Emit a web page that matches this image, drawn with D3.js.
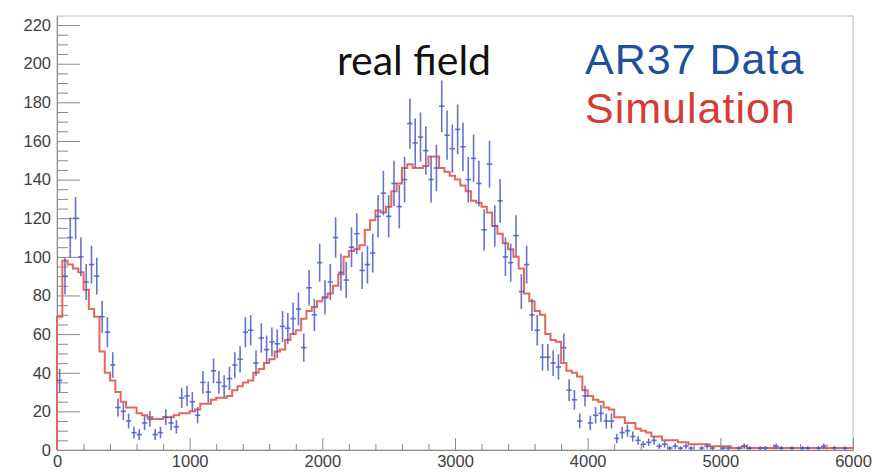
<!DOCTYPE html>
<html>
<head>
<meta charset="utf-8">
<script src="https://cdn.jsdelivr.net/npm/d3@7"></script>
<style>
  html, body { margin: 0; padding: 0; background: #fff; }
  svg { display: block; }
</style>
</head>
<body>
<svg id="chart" width="888" height="472"></svg>
<script>
// Histogram binning: 150 bins of 40 units over 0..6000
const binWidth = 40;
const xTicks = [0, 1000, 2000, 3000, 4000, 5000, 6000];
const yTicks = [0, 20, 40, 60, 80, 100, 120, 140, 160, 180, 200, 220];

// Measured counts per bin (AR37 data)
const dataCounts = [
  36, 90, 110, 120, 100, 87, 96, 90, 69, 61,
  44, 22, 20, 15, 9, 8, 14, 16, 8, 9,
  17, 14, 12, 27, 28, 25, 18, 35, 30, 41,
  35, 33, 37, 44, 47, 61, 62, 45, 58, 52,
  56, 55, 64, 63, 68, 73, 53, 84, 70, 97,
  79, 87, 110, 92, 88, 105, 112, 93, 96, 102,
  121, 133, 121, 138, 126, 140, 169, 159, 162, 155,
  140, 146, 178, 163, 156, 166, 157, 140, 151, 138,
  114, 148, 116, 129, 100, 97, 111, 82, 96, 70,
  62, 48, 48, 45, 43, 53, 31, 26, 15, 28,
  14, 18, 19, 15, 15, 6, 9, 10, 7, 5,
  3, 4, 5, 2, 3, 1, 2, 1, 2, 1,
  0, 1, 2, 1, 0, 1, 1, 0, 1, 2,
  1, 0, 1, 1, 0, 2, 1, 0, 1, 0,
  1, 1, 0, 1, 2, 0, 1, 0, 1, 0
];

// Simulated spectrum per bin
const simCounts = [
  69, 98, 96, 94, 92, 83, 73, 69, 51, 40,
  36, 30, 25, 22, 22, 19, 18, 17, 16, 16,
  17, 17, 18, 19, 19, 20, 21, 24, 24, 26,
  27, 27, 28, 31, 33, 35, 36, 40, 42, 45,
  47, 51, 52, 57, 60, 62, 68, 72, 74, 77,
  79, 81, 85, 91, 100, 103, 104, 106, 114, 119,
  124, 123, 126, 134, 138, 146, 148, 146, 146, 147,
  152, 152, 146, 144, 142, 140, 137, 134, 129, 128,
  126, 123, 116, 112, 107, 104, 100, 94, 81, 77,
  72, 70, 60, 57, 56, 45, 41, 40, 38, 31,
  28, 26, 25, 22, 21, 17, 17, 14, 14, 11,
  10, 9, 7, 7, 5, 5, 5, 4, 4, 3,
  3, 3, 3, 2, 2, 2, 2, 1, 1, 2,
  1, 1, 1, 1, 1, 1, 1, 1, 1, 1,
  1, 1, 1, 1, 1, 1, 1, 1, 1, 1
];

const legendLabels = ["AR37 Data", "Simulation"];
const titleText = "real field";

const svg = d3.select("#chart");
svg.append("rect").attr("width", 888).attr("height", 472).attr("fill", "#fff");

const frame = { left: 57, right: 853, top: 16, bottom: 450 };
const x = d3.scaleLinear().domain([0, 6000]).range([frame.left, frame.right]);
const y = d3.scaleLinear().domain([0, 224.7]).range([frame.bottom, frame.top]);

const axisColor = "#8a8a8a";
const labelColor = "#404040";

// Frame
svg.append("rect")
  .attr("x", frame.left).attr("y", frame.top)
  .attr("width", frame.right - frame.left).attr("height", frame.bottom - frame.top)
  .attr("fill", "none").attr("stroke", "#b8b8b8").attr("stroke-width", 1);

// Y axis: minor ticks every 5, major every 20
const yMinor = d3.range(0, 225, 5).filter(v => v % 20 !== 0);
svg.append("g")
  .attr("transform", `translate(${frame.left},0)`)
  .call(d3.axisLeft(y).tickValues(yMinor).tickFormat("").tickSizeInner(-11).tickSizeOuter(0))
  .call(g => g.select(".domain").remove())
  .call(g => g.selectAll("line").attr("stroke", axisColor));

svg.append("g")
  .attr("transform", `translate(${frame.left},0)`)
  .call(d3.axisLeft(y).tickValues(yTicks).tickFormat(d3.format("d")).tickSizeInner(-23).tickSizeOuter(0).tickPadding(6))
  .call(g => g.select(".domain").attr("stroke", axisColor))
  .call(g => g.selectAll("line").attr("stroke", axisColor))
  .call(g => g.selectAll("text")
    .attr("fill", labelColor)
    .attr("font-family", "'Liberation Sans', Arial, sans-serif")
    .attr("font-size", 16.5));

// X axis: minor ticks every 200, major every 1000
const xMinor = d3.range(0, 6001, 200).filter(v => v % 1000 !== 0);
svg.append("g")
  .attr("transform", `translate(0,${frame.bottom})`)
  .call(d3.axisBottom(x).tickValues(xMinor).tickFormat("").tickSizeInner(-6).tickSizeOuter(0))
  .call(g => g.select(".domain").remove())
  .call(g => g.selectAll("line").attr("stroke", axisColor));

svg.append("g")
  .attr("transform", `translate(0,${frame.bottom})`)
  .call(d3.axisBottom(x).tickValues(xTicks).tickFormat(d3.format("d")).tickSizeInner(-12).tickSizeOuter(0).tickPadding(5))
  .call(g => g.select(".domain").attr("stroke", axisColor))
  .call(g => g.selectAll("line").attr("stroke", axisColor))
  .call(g => g.selectAll("text")
    .attr("fill", labelColor)
    .attr("font-family", "'Liberation Sans', Arial, sans-serif")
    .attr("font-size", 16.5));

// Simulation drawn as a step histogram
const simPoints = [];
simCounts.forEach((c, i) => {
  simPoints.push([i * binWidth, c]);
  simPoints.push([(i + 1) * binWidth, c]);
});
const simLine = d3.line().x(d => x(d[0])).y(d => y(d[1]));
svg.append("path")
  .datum([[0, 0], ...simPoints])
  .attr("d", simLine)
  .attr("fill", "none")
  .attr("stroke", "#e5675c")
  .attr("stroke-width", 2)
  .attr("stroke-linejoin", "miter");

// Data points with Poisson error bars and bin-width horizontal bars
const dataBins = dataCounts.map((c, i) => ({ lo: i * binWidth, hi: (i + 1) * binWidth, c }))
  .filter(d => d.c > 0);
const dataG = svg.append("g")
  .attr("stroke", "#4c5cc4")
  .attr("stroke-opacity", 0.85)
  .attr("stroke-width", 1.6);
dataG.selectAll("line.err")
  .data(dataBins)
  .join("line")
  .attr("class", "err")
  .attr("x1", d => x((d.lo + d.hi) / 2))
  .attr("x2", d => x((d.lo + d.hi) / 2))
  .attr("y1", d => y(Math.max(0, d.c - Math.sqrt(d.c))))
  .attr("y2", d => y(d.c + Math.sqrt(d.c)));
dataG.selectAll("line.bw")
  .data(dataBins)
  .join("line")
  .attr("class", "bw")
  .attr("x1", d => x(d.lo))
  .attr("x2", d => x(d.hi))
  .attr("y1", d => y(d.c))
  .attr("y2", d => y(d.c));

// Title text
svg.append("text")
  .attr("x", 337).attr("y", 75)
  .attr("font-family", "Lato, 'Open Sans', sans-serif")
  .attr("font-size", 41)
  .attr("fill", "#111")
  .text(titleText);

// Legend
svg.append("text")
  .attr("x", 585).attr("y", 74)
  .attr("font-family", "'Liberation Sans', Arial, sans-serif")
  .attr("font-size", 43)
  .attr("letter-spacing", 1)
  .attr("fill", "#1f4f9e")
  .text(legendLabels[0]);
svg.append("text")
  .attr("x", 585).attr("y", 123)
  .attr("font-family", "'Liberation Sans', Arial, sans-serif")
  .attr("font-size", 43)
  .attr("letter-spacing", 1)
  .attr("fill", "#d63c35")
  .text(legendLabels[1]);
</script>
</body>
</html>
